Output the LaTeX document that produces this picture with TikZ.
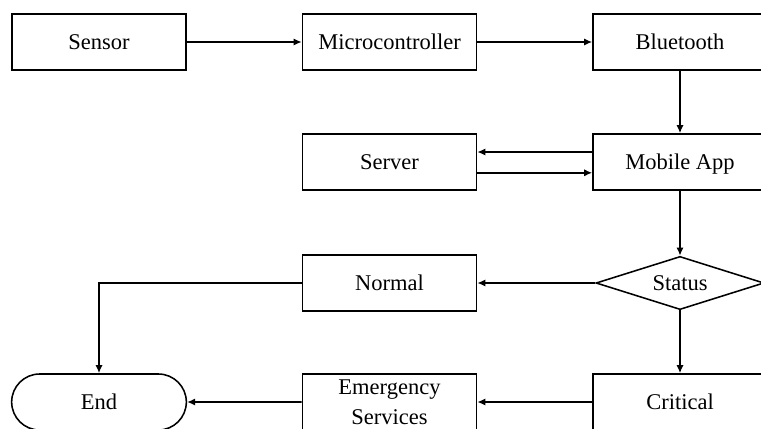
\documentclass[tikz,border=0pt]{standalone}
\usepackage{fontspec}
\setmainfont{Liberation Serif}
\usetikzlibrary{arrows.meta,shapes.geometric,shapes.misc}

\tikzset{
  block/.style={draw, line width=1.1pt, rectangle, minimum width=4.35cm, minimum height=1.4cm, align=center, text height=10.6pt, text depth=0pt, font=\fontsize{16}{18.5}\selectfont},
  decision/.style={draw, line width=1.1pt, diamond, aspect=3.2, minimum width=4.2cm, minimum height=1.33cm, inner sep=0pt, font=\fontsize{16}{18.5}\selectfont},
  terminal/.style={draw, line width=1.1pt, rounded rectangle, minimum width=4.6cm, minimum height=1.4cm, font=\fontsize{16}{18.5}\selectfont},
  flow/.style={line width=1.1pt, -{Latex[length=2mm,width=1.8mm]}}
}

\begin{document}
\begin{tikzpicture}[x=0.025cm, y=-0.025cm]
        \useasboundingbox (0,0) rectangle (761,428);
        \clip (0,0) rectangle (761,428);
        \fill[white] (0,0) rectangle (761,428);

        % top row
        \node[block] (sensor) at (99,42) {Sensor};
        \node[block] (micro) at (389.5,42) {Microcontroller};
        \node[block] (bluetooth) at (680,42) {Bluetooth};

        % app and server
        \node[block] (server) at (389.5,162) {Server};
        \node[block] (mobile) at (680,162) {Mobile App};

        % decision
        \node[decision] (status) at (680,283) {Status};
        \node[block] (normal) at (389.5,283) {Normal};

        % bottom row
        \node[terminal] (end) at (99,402) {End};
        \node[block, text height={}, text depth={}, font=\fontsize{16}{21}\selectfont] (emergency) at (389.5,402) {Emergency\\Services};
        \node[block] (critical) at (680,402) {Critical};

        \draw[flow] (sensor) -- (micro);
        \draw[flow] (micro) -- (bluetooth);
        \draw[flow] (bluetooth) -- (mobile);
        \draw[flow] ([yshift=0.25cm]mobile.west) -- ([yshift=0.25cm]server.east);
        \draw[flow] ([yshift=-0.27cm]server.east) -- ([yshift=-0.27cm]mobile.west);
        \draw[flow] (mobile) -- (status.north);
        \draw[flow] (status.west) -- (normal.east);
        \draw[flow] (normal.west) -| (end.north);
        \draw[flow] (status.south) -- (critical.north);
        \draw[flow] (critical) -- (emergency);
        \draw[flow] (emergency) -- (end);
\end{tikzpicture}
\end{document}
